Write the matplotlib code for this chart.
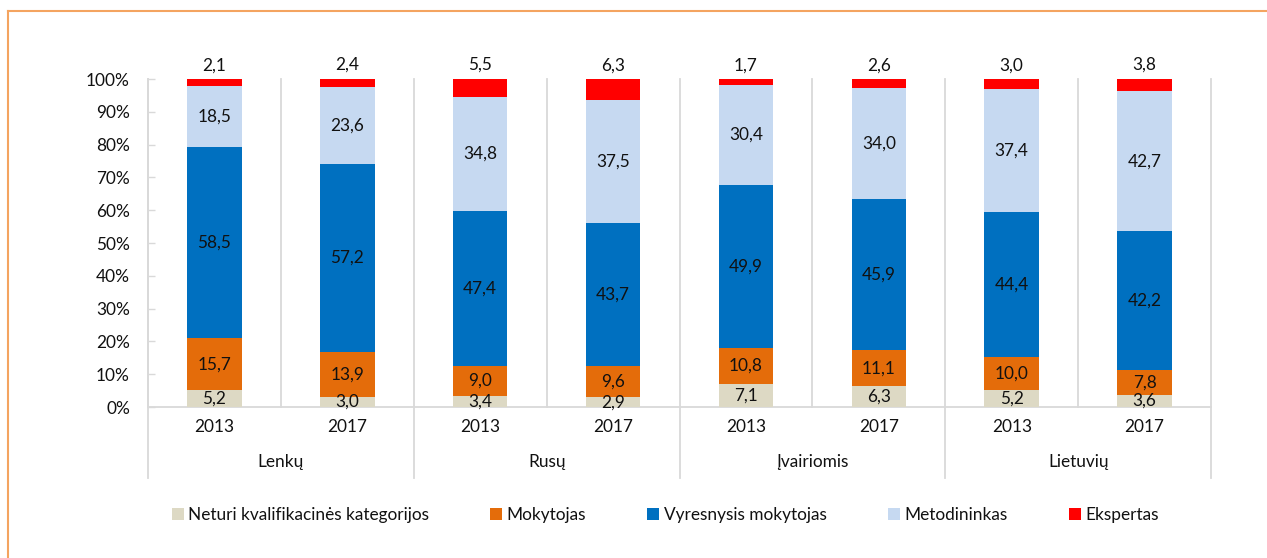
import matplotlib
matplotlib.use("Agg")
import matplotlib.pyplot as plt
from matplotlib.patches import Patch
from matplotlib.lines import Line2D
import matplotlib.transforms as mtransforms
import numpy as np

plt.rcParams['font.family'] = ['Lato', 'DejaVu Sans']

groups = ["Lenkų", "Rusų", "Įvairiomis", "Lietuvių"]
years = ["2013", "2017"]
series_names = ["Neturi kvalifikacinės kategorijos", "Mokytojas",
                "Vyresnysis mokytojas", "Metodininkas", "Ekspertas"]
neturi = [5.2, 3.0, 3.4, 2.9, 7.1, 6.3, 5.2, 3.6]
mokytojas = [15.7, 13.9, 9.0, 9.6, 10.8, 11.1, 10.0, 7.8]
vyresnysis = [58.5, 57.2, 47.4, 43.7, 49.9, 45.9, 44.4, 42.2]
metodininkas = [18.5, 23.6, 34.8, 37.5, 30.4, 34.0, 37.4, 42.7]
ekspertas = [2.1, 2.4, 5.5, 6.3, 1.7, 2.6, 3.0, 3.8]
colors = ["#DDD9C4", "#E46C0A", "#0070C0", "#C6D9F1", "#FF0000"]

data = [neturi, mokytojas, vyresnysis, metodininkas, ekspertas]
n = len(neturi)
x = np.arange(n)
txt = "#111111"
grid_c = "#D9D9D9"
fs = 12.4

fig = plt.figure(figsize=(12.67, 5.58), dpi=100)
ax = fig.add_axes([148/1267, 1-407/558, (1211-148)/1267, 328/558])

def fmt(v):
    return f"{v:.1f}".replace(".", ",")

bottom = np.zeros(n)
for i, (vals, col) in enumerate(zip(data, colors)):
    vals = np.array(vals)
    ax.bar(x, vals, bottom=bottom, width=0.41, color=col, edgecolor='none', zorder=3)
    for xi, b, v in zip(x, bottom, vals):
        if i < 4:
            ax.text(xi, b + v/2, fmt(v), ha='center', va='center', fontsize=fs, color=txt, zorder=4)
        else:
            ax.annotate(fmt(v), xy=(xi, b + v), xytext=(0, 4), textcoords='offset points',
                        ha='center', va='bottom', fontsize=fs, color=txt)
    bottom += vals

ax.set_xlim(-0.5, n - 0.5)
ax.set_ylim(0, 100)
ax.set_yticks(np.arange(0, 101, 10))
ax.set_yticklabels([f"{v}%" for v in range(0, 101, 10)], fontsize=fs, color=txt)
ax.tick_params(axis='y', direction='in', length=5, width=1, color=grid_c, pad=13)
ax.set_xticks(x)
ax.set_xticklabels(years * len(groups), fontsize=fs, color=txt)
ax.tick_params(axis='x', length=0, pad=9)

for s in ['top', 'right']:
    ax.spines[s].set_visible(False)
for s in ['left', 'bottom']:
    ax.spines[s].set_color(grid_c)
    ax.spines[s].set_linewidth(1.3)

# category separators
for b in np.arange(-0.5, n, 1.0):
    is_group = (b + 0.5) % 2 == 0
    ax.axvline(b, ymin=(-0.2165 if is_group else 0), ymax=1, color=grid_c, lw=1.3,
               clip_on=False, zorder=1)

trans = mtransforms.blended_transform_factory(ax.transData, ax.transAxes)
for gi, g in enumerate(groups):
    ax.text(2*gi + 0.5, -0.168, g, transform=trans, ha='center', va='center',
            fontsize=fs, color=txt)

handles = [Patch(facecolor=c, edgecolor='none') for c in colors]
fig.legend(handles, series_names, loc='center', bbox_to_anchor=(0.525, 0.077), ncol=5,
           frameon=False, fontsize=fs, handlelength=0.7, handleheight=0.7,
           handletextpad=0.25, columnspacing=3.55, labelcolor=txt)

# outer border (top and left edges visible)
bx = 7.5/1267
by = 1 - 11/558
fig.lines.append(Line2D([bx, 1.0], [by, by], transform=fig.transFigure, color="#F4A460", lw=1.5))
fig.lines.append(Line2D([bx, bx], [0.0, by], transform=fig.transFigure, color="#F4A460", lw=1.5))

fig.savefig("out.png", dpi=100)
